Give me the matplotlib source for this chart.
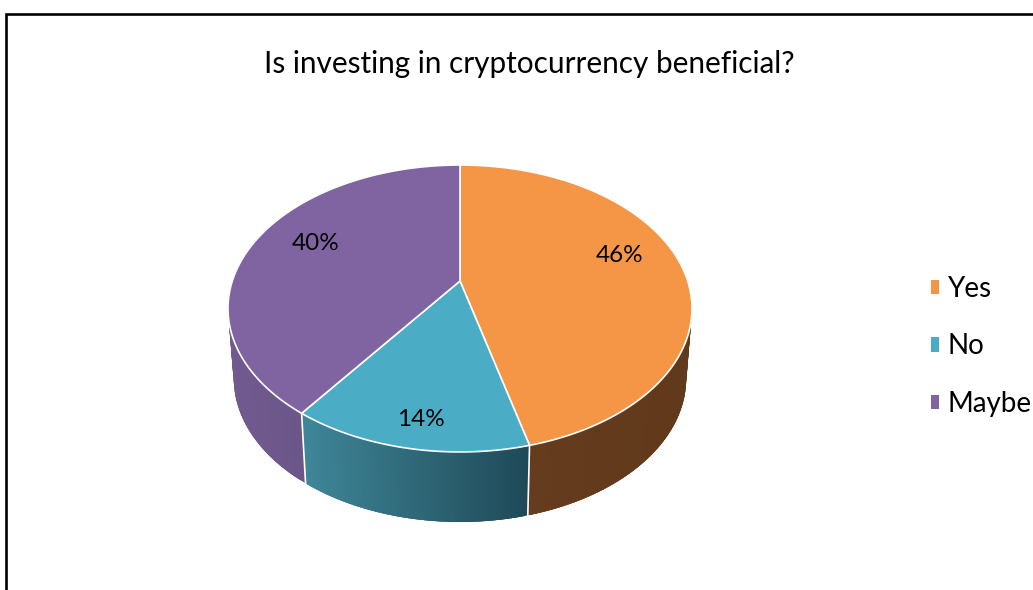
import numpy as np
import matplotlib
matplotlib.use("Agg")
import matplotlib.pyplot as plt
from matplotlib.patches import Patch

# ---- data ----
title = "Is investing in cryptocurrency beneficial?"
categories = ["Yes", "No", "Maybe"]
values = [46, 14, 40]

# ---- style / layout ----
top_colors = ["#F59646", "#4BACC6", "#8064A2"]
side_left = ["#653C1D", "#3F8799", "#705A90"]
side_right = ["#61391B", "#1F4A58", "#634E78"]
label_xy = [(620, 256), (421, 419), (316, 244)]
W, H = 1033, 590
CX, CY = 460.0, 281.0
A, B, K = 227.7, 138.2, 0.1916
DEPTH, BOTTOM_SCALE = 70.0, 0.975
FONT = "Lato"


def project(theta, r=1.0):
    """Pie angle (clockwise from 12 o'clock) to perspective-projected position."""
    u, v = r * np.sin(theta), r * np.cos(theta)
    w = 1 + K * v
    return A * u / w, B * v / w


def hex2rgb(c):
    return np.array(matplotlib.colors.to_rgb(c))


fig = plt.figure(figsize=(W / 100, H / 100), dpi=100, facecolor="white")
ax = fig.add_axes([0, 0, 1, 1])
ax.set_xlim(0, W)
ax.set_ylim(H, 0)
ax.axis("off")

# frame (left and top edge visible in the crop)
ax.plot([6, 6, W], [H, 14, 14], color="black", lw=1.9, solid_joinstyle="miter", zorder=1)

fractions = np.array(values, dtype=float) / np.sum(values)
edges = np.concatenate([[0], np.cumsum(fractions)]) * 2 * np.pi

# sides: overlapping strips painted in order, so no seams show between them
for i in range(len(values)):
    th = np.linspace(edges[i], edges[i + 1], 90)
    c0, c1 = hex2rgb(side_left[i]), hex2rgb(side_right[i])
    dx, dy = project(th)
    xs_top, ys_top = CX + dx, CY - dy
    xs_bot, ys_bot = CX + BOTTOM_SCALE * dx, CY - dy + DEPTH
    front = th > np.pi / 2
    lo, hi = xs_top[front].min(), xs_top[front].max()
    for j in range(len(th) - 1):
        t = np.clip((xs_top[j] - lo) / max(hi - lo, 1e-6), 0, 1)
        col = c0 + (c1 - c0) * t
        k = min(j + 3, len(th) - 1)
        ax.fill(
            np.concatenate([xs_top[j:k + 1], xs_bot[j:k + 1][::-1]]),
            np.concatenate([ys_top[j:k + 1], ys_bot[j:k + 1][::-1]]),
            color=col, lw=0, zorder=2,
        )

# white separators on the side wall
for e in edges[1:-1]:
    dx, dy = project(e)
    ax.plot([CX + dx, CX + BOTTOM_SCALE * dx], [CY - dy, CY - dy + DEPTH],
            color="white", lw=1.2, zorder=3)

# top face
for i in range(len(values)):
    th = np.linspace(edges[i], edges[i + 1], 200)
    dx, dy = project(th)
    xs = np.concatenate([[CX], CX + dx])
    ys = np.concatenate([[CY], CY - dy])
    ax.fill(xs, ys, facecolor=top_colors[i], edgecolor="white", lw=1.2,
            joinstyle="round", zorder=4)

# percentage labels
for v, (x, y) in zip(values, label_xy):
    ax.text(x, y, f"{v}%", ha="center", va="center", fontsize=17.5,
            family=FONT, color="black", zorder=5)

ax.text(529, 64, title, ha="center", va="center", fontsize=21.4, family=FONT, color="black")

handles = [Patch(facecolor=c, edgecolor="none", label=n) for c, n in zip(top_colors, categories)]
ax.legend(
    handles=handles, loc="upper left", bbox_to_anchor=(931 / W, 1 - 276 / H),
    frameon=False, prop={"family": FONT, "size": 20}, handlelength=0.29,
    handleheight=0.43, handletextpad=0.3, labelspacing=1.13, borderpad=0, borderaxespad=0,
)

fig.savefig("out.png", dpi=100, facecolor="white")
